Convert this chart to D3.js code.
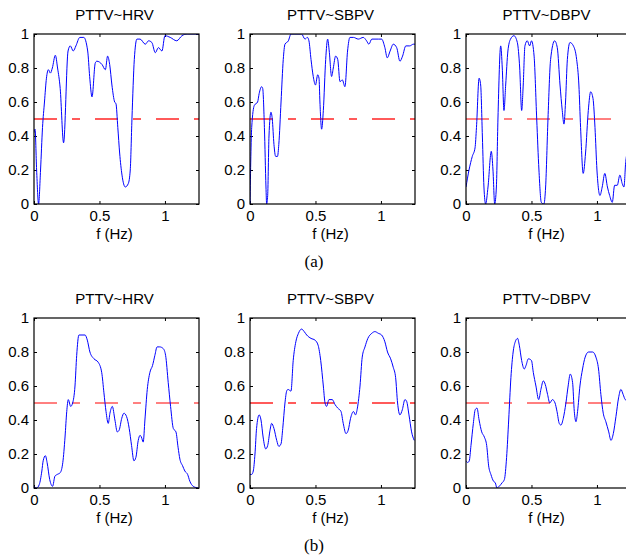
<!DOCTYPE html>
<html>
<head>
<meta charset="utf-8">
<script src="https://cdn.jsdelivr.net/npm/d3@7/dist/d3.min.js"></script>
<style>
  body { margin: 0; background: #fff; }
  svg text { font-family: "Liberation Sans", Arial, sans-serif; fill: #000; }
</style>
</head>
<body>
<svg id="chart" width="626" height="557"></svg>
<script>
// Datos: [f (Hz), coherencia]
const hrvA = [[0,0.42],[0.008,0.44],[0.02,0.2],[0.035,0],[0.05,0.2],[0.065,0.45],[0.08,0.6],[0.095,0.74],[0.11,0.79],[0.125,0.77],[0.14,0.8],[0.163,0.875],[0.18,0.8],[0.2,0.68],[0.226,0.36],[0.26,0.9],[0.277,0.93],[0.3,0.9],[0.32,0.93],[0.35,0.98],[0.38,0.98],[0.41,0.9],[0.425,0.75],[0.443,0.63],[0.468,0.83],[0.48,0.84],[0.52,0.82],[0.545,0.79],[0.562,0.87],[0.578,0.82],[0.595,0.7],[0.616,0.6],[0.626,0.59],[0.64,0.45],[0.654,0.3],[0.672,0.17],[0.697,0.1],[0.72,0.12],[0.735,0.2],[0.748,0.5],[0.766,0.85],[0.786,0.97],[0.81,0.97],[0.85,0.94],[0.875,0.96],[0.9,0.95],[0.926,0.89],[0.95,0.92],[0.977,0.9],[1.0,0.99],[1.04,0.98],[1.09,0.96],[1.13,0.99],[1.17,1.0],[1.26,1.0]];
const sbpvA = [[0,0],[0.013,0.45],[0.033,0.58],[0.058,0.6],[0.07,0.65],[0.089,0.69],[0.097,0.68],[0.11,0.45],[0.122,0.1],[0.127,0],[0.135,0.05],[0.145,0.4],[0.16,0.54],[0.17,0.5],[0.183,0.35],[0.196,0.28],[0.21,0.28],[0.22,0.35],[0.237,0.6],[0.254,0.85],[0.267,0.94],[0.293,0.96],[0.313,1.0],[0.343,1.0],[0.394,1.0],[0.42,0.97],[0.438,0.98],[0.45,0.96],[0.466,0.85],[0.483,0.75],[0.5,0.7],[0.517,0.76],[0.527,0.74],[0.534,0.6],[0.547,0.44],[0.56,0.55],[0.578,0.85],[0.593,0.97],[0.605,0.9],[0.623,0.75],[0.636,0.8],[0.654,0.87],[0.67,0.85],[0.687,0.72],[0.705,0.73],[0.725,0.69],[0.745,0.9],[0.763,0.98],[0.79,0.98],[0.827,0.97],[0.865,0.98],[0.89,0.96],[0.908,0.94],[0.93,0.97],[0.98,0.97],[1.005,0.97],[1.03,0.92],[1.048,0.86],[1.07,0.9],[1.094,0.94],[1.12,0.92],[1.145,0.84],[1.165,0.87],[1.19,0.93],[1.22,0.93],[1.247,0.94],[1.26,0.94]];
const dbpvA = [[0,0.1],[0.023,0.2],[0.048,0.28],[0.069,0.33],[0.08,0.45],[0.1,0.74],[0.112,0.7],[0.125,0.4],[0.137,0.1],[0.15,0],[0.168,0.1],[0.193,0.31],[0.206,0.2],[0.219,0],[0.232,0.1],[0.244,0.5],[0.265,0.93],[0.277,0.8],[0.29,0.55],[0.303,0.7],[0.32,0.9],[0.34,0.97],[0.366,0.99],[0.392,0.95],[0.41,0.8],[0.425,0.55],[0.437,0.7],[0.45,0.93],[0.468,0.96],[0.486,0.93],[0.5,0.96],[0.52,0.87],[0.54,0.5],[0.557,0.2],[0.575,0.01],[0.595,0],[0.608,0.1],[0.626,0.5],[0.646,0.85],[0.677,0.96],[0.697,0.92],[0.718,0.7],[0.735,0.55],[0.748,0.47],[0.76,0.6],[0.774,0.85],[0.794,0.95],[0.82,0.93],[0.845,0.85],[0.862,0.7],[0.875,0.45],[0.895,0.18],[0.913,0.3],[0.934,0.55],[0.952,0.66],[0.97,0.62],[0.985,0.45],[1.0,0.2],[1.023,0.05],[1.04,0.1],[1.06,0.18],[1.08,0.1],[1.097,0.05],[1.117,0.01],[1.135,0.11],[1.155,0.11],[1.175,0.17],[1.193,0.12],[1.206,0.1],[1.22,0.25],[1.23,0.3],[1.26,0.35]];
const hrvB = [[0,0.01],[0.02,0],[0.04,0.02],[0.06,0.1],[0.07,0.16],[0.087,0.19],[0.1,0.15],[0.12,0.05],[0.142,0.01],[0.16,0.07],[0.178,0.08],[0.2,0.09],[0.22,0.15],[0.237,0.3],[0.25,0.45],[0.262,0.52],[0.28,0.48],[0.295,0.5],[0.313,0.6],[0.326,0.78],[0.343,0.9],[0.39,0.9],[0.407,0.87],[0.427,0.8],[0.458,0.76],[0.49,0.74],[0.517,0.68],[0.534,0.56],[0.55,0.45],[0.567,0.38],[0.58,0.44],[0.598,0.48],[0.618,0.4],[0.636,0.33],[0.65,0.34],[0.67,0.41],[0.687,0.44],[0.707,0.42],[0.727,0.35],[0.745,0.25],[0.763,0.16],[0.778,0.18],[0.796,0.28],[0.81,0.31],[0.82,0.3],[0.834,0.27],[0.847,0.4],[0.865,0.58],[0.885,0.68],[0.905,0.72],[0.923,0.78],[0.94,0.83],[0.96,0.83],[0.987,0.82],[1.005,0.78],[1.025,0.62],[1.043,0.48],[1.064,0.35],[1.084,0.33],[1.1,0.24],[1.114,0.17],[1.135,0.13],[1.152,0.1],[1.173,0.08],[1.19,0.04],[1.216,0.01],[1.254,0]];
const sbpvB = [[0,0.08],[0.013,0.08],[0.025,0.1],[0.038,0.2],[0.05,0.35],[0.07,0.43],[0.084,0.4],[0.1,0.3],[0.12,0.23],[0.135,0.25],[0.153,0.34],[0.165,0.38],[0.183,0.35],[0.204,0.28],[0.22,0.245],[0.237,0.26],[0.25,0.35],[0.267,0.5],[0.28,0.57],[0.29,0.58],[0.313,0.57],[0.33,0.75],[0.35,0.86],[0.37,0.91],[0.394,0.935],[0.414,0.92],[0.433,0.9],[0.466,0.88],[0.496,0.87],[0.52,0.84],[0.54,0.75],[0.56,0.6],[0.573,0.5],[0.585,0.48],[0.603,0.52],[0.628,0.52],[0.65,0.49],[0.67,0.47],[0.695,0.45],[0.712,0.38],[0.733,0.32],[0.75,0.34],[0.768,0.41],[0.79,0.45],[0.806,0.43],[0.82,0.47],[0.84,0.6],[0.857,0.77],[0.878,0.83],[0.9,0.88],[0.93,0.91],[0.954,0.92],[0.98,0.91],[1.005,0.9],[1.03,0.86],[1.05,0.8],[1.074,0.76],[1.094,0.71],[1.112,0.65],[1.127,0.5],[1.145,0.43],[1.163,0.46],[1.183,0.52],[1.196,0.51],[1.214,0.43],[1.234,0.33],[1.254,0.28]];
const dbpvB = [[0,0.16],[0.013,0.15],[0.025,0.16],[0.038,0.25],[0.056,0.38],[0.07,0.46],[0.084,0.47],[0.1,0.4],[0.12,0.33],[0.14,0.3],[0.158,0.25],[0.173,0.13],[0.19,0.08],[0.21,0.04],[0.224,0.03],[0.236,0],[0.254,0.01],[0.275,0.03],[0.293,0.05],[0.31,0.18],[0.326,0.4],[0.343,0.65],[0.36,0.8],[0.376,0.86],[0.394,0.88],[0.407,0.84],[0.425,0.75],[0.445,0.7],[0.458,0.72],[0.476,0.76],[0.5,0.75],[0.514,0.68],[0.534,0.6],[0.555,0.52],[0.572,0.58],[0.59,0.63],[0.605,0.61],[0.623,0.55],[0.64,0.5],[0.66,0.52],[0.68,0.5],[0.695,0.45],[0.712,0.38],[0.725,0.37],[0.743,0.41],[0.763,0.5],[0.78,0.6],[0.796,0.67],[0.814,0.62],[0.827,0.45],[0.84,0.39],[0.852,0.45],[0.87,0.6],[0.89,0.7],[0.91,0.77],[0.936,0.8],[0.967,0.8],[0.992,0.77],[1.012,0.7],[1.03,0.55],[1.048,0.44],[1.068,0.39],[1.09,0.33],[1.107,0.28],[1.125,0.32],[1.145,0.42],[1.165,0.53],[1.183,0.58],[1.2,0.55],[1.216,0.52],[1.26,0.5]];

const titles = ['PTTV~HRV', 'PTTV~SBPV', 'PTTV~DBPV'];
const rowLabels = ['(a)', '(b)'];
const xTicks = [0, 0.5, 1];
const yTicks = [0, 0.2, 0.4, 0.6, 0.8, 1];
const threshold = 0.5;
const fMax = 1.26;

const svg = d3.select('#chart');
const W = 165, H = 170;
const lefts = [34, 250, 466];
const tops = [34, 318];

const x = d3.scaleLinear().domain([0, fMax]).range([0, W]);
const y = d3.scaleLinear().domain([0, 1]).range([H, 0]);
const line = d3.line().x(d => x(d[0])).y(d => y(d[1])).curve(d3.curveMonotoneX);

// Panel: serie, fila, columna, estilo de la línea de umbral
const panels = [
  { data: hrvA, row: 0, col: 0, thick: true },
  { data: sbpvA, row: 0, col: 1, thick: true },
  { data: dbpvA, row: 0, col: 2, thick: false },
  { data: hrvB, row: 1, col: 0, thick: false },
  { data: sbpvB, row: 1, col: 1, thick: true },
  { data: dbpvB, row: 1, col: 2, thick: false }
];

svg.append('defs').append('clipPath').attr('id', 'clip')
  .append('rect').attr('width', W).attr('height', H);

panels.forEach(p => {
  const g = svg.append('g').attr('transform', `translate(${lefts[p.col]},${tops[p.row]})`);

  // título
  g.append('text').attr('x', W / 2 - 2).attr('y', -14)
    .attr('text-anchor', 'middle').style('font-size', '15px').text(titles[p.col]);

  // ejes con marcas hacia dentro (estilo MATLAB)
  const axB = d3.axisBottom(x).tickValues(xTicks).tickSize(-3).tickPadding(6).tickFormat(d3.format('~g'));
  const axT = d3.axisTop(x).tickValues(xTicks).tickSize(-3).tickFormat('');
  const axL = d3.axisLeft(y).tickValues(yTicks).tickSize(-3).tickPadding(5).tickFormat(d3.format('~g'));
  const axR = d3.axisRight(y).tickValues(yTicks).tickSize(-3).tickFormat('');

  const bottom = g.append('g').attr('transform', `translate(0,${H})`).call(axB);
  g.append('g').call(axT);
  g.append('g').call(axL);
  g.append('g').attr('transform', `translate(${W},0)`).call(axR);

  g.selectAll('.domain').remove();
  g.selectAll('.tick line').attr('stroke', '#000');
  g.selectAll('.tick text').style('font-size', '15px').attr('fill', '#000').style('font-family', '"Liberation Sans", Arial, sans-serif');
  bottom.selectAll('.tick text').attr('dy', '0.75em').attr('y', 6);

  g.append('text').attr('x', W / 2 - 2).attr('y', H + 35)
    .attr('text-anchor', 'middle').style('font-size', '15px').text('f (Hz)');

  // umbral
  g.append('line')
    .attr('x1', x(0)).attr('x2', x(fMax))
    .attr('y1', y(threshold)).attr('y2', y(threshold))
    .attr('stroke', p.thick ? '#ff5a5a' : '#ff0000')
    .attr('stroke-width', p.thick ? 1.8 : 1)
    .attr('stroke-dasharray', '23,15,8,15');

  // coherencia
  g.append('path').datum(p.data)
    .attr('clip-path', 'url(#clip)')
    .attr('d', line)
    .attr('fill', 'none')
    .attr('stroke', '#0000ff')
    .attr('stroke-width', 1);

  // caja
  g.append('rect').attr('width', W).attr('height', H)
    .attr('fill', 'none').attr('stroke', '#000').attr('stroke-width', 1.2);
});

rowLabels.forEach((t, i) => {
  svg.append('text').attr('x', 314).attr('y', tops[i] + H + 63)
    .attr('text-anchor', 'middle')
    .style('font-family', '"Liberation Serif", "Times New Roman", serif')
    .style('font-size', '17px').text(t);
});
</script>
</body>
</html>
